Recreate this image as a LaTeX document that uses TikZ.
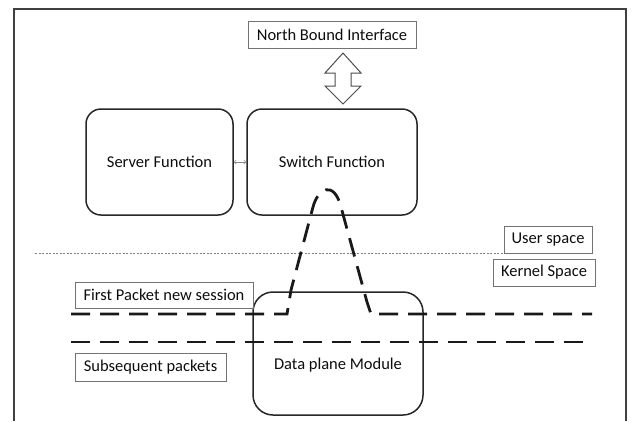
\documentclass[tikz,border=0pt]{standalone}
\usepackage{fontspec}
\setmainfont{Carlito}
\usetikzlibrary{arrows.meta}
\begin{document}
\begin{tikzpicture}[x=1pt,y=-1pt,
  txt/.style={text=black!95, font=\fontsize{16.5}{19}\selectfont},
  labelbox/.style={txt, draw=black!55, line width=0.9pt, inner sep=0pt},
  funcbox/.style={txt, draw=black!85, line width=1.5pt, rounded corners=15pt, inner sep=0pt},
  flow/.style={line width=2.8pt, draw=black!90, dash pattern=on 19pt off 10pt},
  bigarrow/.style={draw=black!70, line width=1pt, fill=white, line join=miter},
  smallarrow/.style={draw=black!45, line width=0.7pt, {Straight Barb[length=2pt,width=4pt]}-{Straight Barb[length=2pt,width=4pt]}},
  sep/.style={draw=black!50, line width=0.6pt, dash pattern=on 2pt off 1.5pt}
]
\useasboundingbox (0,0) rectangle (634,421);
% outer frame
\draw[draw=black!75, line width=1.8pt] (14,421) -- (14,9) -- (626,9) -- (626,421);

% top interface
\node[labelbox, minimum width=168pt, minimum height=27pt] (nbi) at (332,34.5) {North Bound Interface};

% functions
\node[funcbox, minimum width=147pt, minimum height=106pt] (server) at (159.5,162) {Server Function};
\node[funcbox, minimum width=170pt, minimum height=106pt] (switch) at (332,162) {Switch Function};
\draw[smallarrow] (server.east) -- (switch.west);

% double arrow between interface and switch
\draw[bigarrow] (343,53) -- (361,73) -- (351,73) -- (351,86) -- (361,86) -- (343,104)
  -- (325,86) -- (335,86) -- (335,73) -- (325,73) -- cycle;

% user / kernel separation
\coordinate (sepL) at (35,253);
\coordinate (sepR) at (583,253);
\draw[sep] (sepL) -- (sepR);
\node[labelbox, minimum width=88pt, minimum height=27pt] (user) at (548,239.5) {User space};
\node[labelbox, minimum width=102pt, minimum height=27pt] (kernel) at (544,272.5) {Kernel Space};

% data plane
\node[funcbox, rounded corners=20pt, minimum width=170pt, minimum height=123pt] (dp) at (338,353.5) {};
\node[txt] (dplabel) at (338,365) {Data plane Module};

% packet labels
\node[labelbox, minimum width=178pt, minimum height=26pt] (first) at (164,295) {First Packet new session};
\node[labelbox, minimum width=151pt, minimum height=28pt] (subs) at (150.5,367) {Subsequent packets};

% packet flows
\coordinate (fpS) at (71,314);
\coordinate (fpE) at (592,314);
\coordinate (spS) at (71,342);
\coordinate (spE) at (592,342);
\draw[flow] (fpS) -- (287,314) -- (291,290) -- (313,207)
  .. controls (318,188) and (334,180) .. (341,207)
  -- (367,302) -- (371,314) -- (fpE);
\draw[flow] (spS) -- (spE);
\end{tikzpicture}
\end{document}
